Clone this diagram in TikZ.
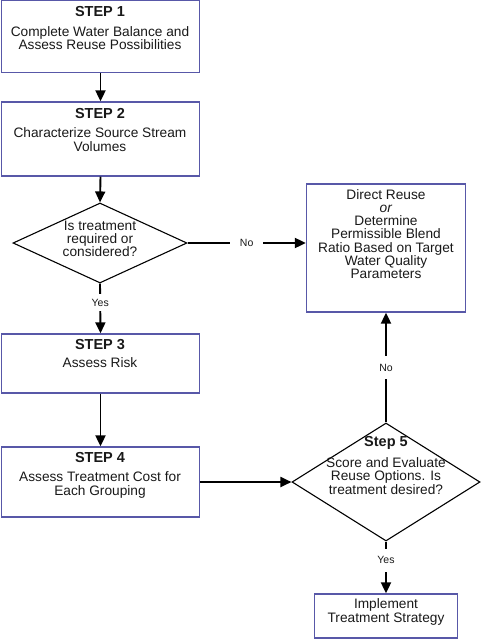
\documentclass[tikz,border=0pt]{standalone}
\usepackage{fontspec}
\setmainfont{Liberation Sans}
\usetikzlibrary{arrows.meta,shapes.geometric}
\definecolor{boxblue}{RGB}{88,88,168}
\definecolor{txt}{RGB}{25,25,25}
\begin{document}
\begin{tikzpicture}[x=1pt,y=-1pt,
  stepbox/.style={rectangle, draw=boxblue, line width=1.3pt, inner sep=0pt},
  dia/.style={diamond, draw=black, line width=1.1pt, inner sep=0pt},
  ttl/.style={inner sep=0pt, text=txt, font=\fontsize{14.5}{14}\selectfont\bfseries},
  body/.style={inner sep=0pt, text=txt, align=center, font=\fontsize{13.7}{13.3}\selectfont},
  conn/.style={line width=1.9pt, -{Triangle[length=11pt,width=10pt]}},
  lab/.style={fill=white, text=txt, font=\fontsize{10.5}{12}\selectfont}
]
\useasboundingbox (0,0) rectangle (482,640);

% boxes
\node[stepbox, minimum width=198pt, minimum height=72pt] (s1) at (100.5,36.5) {};
\node[stepbox, minimum width=198pt, minimum height=74pt] (s2) at (100.5,139) {};
\node[dia, minimum width=174pt, minimum height=80pt] (d1) at (100,243) {};
\node[stepbox, minimum width=159pt, minimum height=128pt] (dr) at (386,248) {};
\node[stepbox, minimum width=198pt, minimum height=59pt] (s3) at (100.5,363.5) {};
\node[stepbox, minimum width=198pt, minimum height=70pt] (s4) at (100.5,482) {};
\node[dia, minimum width=188pt, minimum height=118pt] (d2) at (386,482) {};
\node[stepbox, minimum width=143pt, minimum height=44pt] (im) at (386,616) {};

% texts
\node[ttl] (s1t) at (100,12) {STEP 1};
\node[body] (s1b) at (100,38) {Complete Water Balance and\\Assess Reuse Possibilities};
\node[ttl] (s2t) at (100,114) {STEP 2};
\node[body] (s2b) at (100,139.5) {Characterize Source Stream\\Volumes};
\node[body] (d1b) at (100,239) {Is treatment\\required or\\considered?};
\node[body] (drb) at (386,234) {Direct Reuse\\\textit{or}\\Determine\\Permissible Blend\\Ratio Based on Target\\Water Quality\\Parameters};
\node[ttl] (s3t) at (100,345) {STEP 3};
\node[body] (s3b) at (100,363) {Assess Risk};
\node[ttl] (s4t) at (100,458) {STEP 4};
\node[body] (s4b) at (100,485) {Assess Treatment Cost for\\Each Grouping};
\node[ttl] (d2t) at (386,443) {Step 5};
\node[body] (d2b) at (386,476) {Score and Evaluate\\Reuse Options. Is\\treatment desired?};
\node[body] (imb) at (386,612) {Implement\\Treatment Strategy};

% connectors
\draw[conn] (s1.south) -- (s2.north);
\draw[conn] (s2.south) -- (d1.north);
\draw[conn] (d1.east) -- node[lab, midway, inner xsep=10pt] {No} (d1.east -| dr.west);
\draw[conn] (d1.south) -- node[lab, pos=0.38, inner ysep=5pt] {Yes} (s3.north);
\draw[conn] (s3.south) -- (s4.north);
\draw[conn] (s4.east) -- (d2.west);
\draw[conn] (d2.north) -- node[lab, midway, inner ysep=8pt] {No} (d2.north |- dr.south);
\draw[conn] (d2.south) -- node[lab, pos=0.36, inner ysep=8pt] {Yes} (im.north);
\end{tikzpicture}
\end{document}
